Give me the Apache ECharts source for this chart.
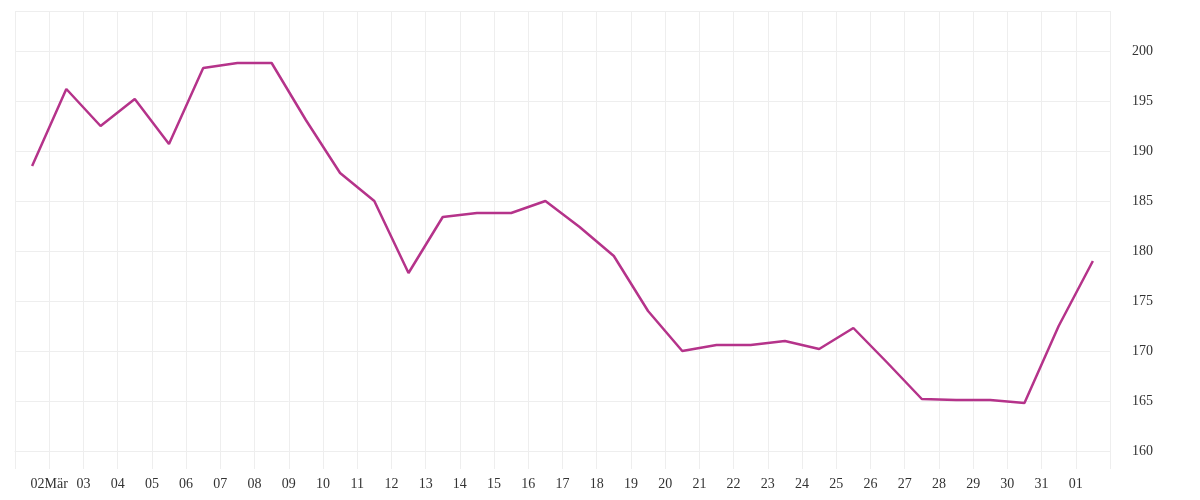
<!DOCTYPE html>
<html><head><meta charset="utf-8">
<script src="https://cdn.jsdelivr.net/npm/echarts@6/dist/echarts.min.js"></script>
<style>body{margin:0}#c{width:1200px;height:500px}</style></head>
<body><div id="c"></div>
<script>
const dayLabels = {2:'02Mär',3:'03',4:'04',5:'05',6:'06',7:'07',8:'08',9:'09',10:'10',11:'11',12:'12',13:'13',14:'14',15:'15',16:'16',17:'17',18:'18',19:'19',20:'20',21:'21',22:'22',23:'23',24:'24',25:'25',26:'26',27:'27',28:'28',29:'29',30:'30',31:'31',32:'01'};
const xDays = [1.5,2.5,3.5,4.5,5.5,6.5,7.5,8.5,9.5,10.5,11.5,12.5,13.5,14.5,15.5,16.5,17.5,18.5,19.5,20.5,21.5,22.5,23.5,24.5,25.5,26.5,27.5,28.5,29.5,30.5,31.5,32.5];
const values = [188.5,196.2,192.5,195.2,190.7,198.3,198.8,198.8,193.1,187.8,185.0,177.8,183.4,183.8,183.8,185.0,182.4,179.5,174.0,170.0,170.6,170.6,171.0,170.2,172.3,168.8,165.2,165.1,165.1,164.8,172.5,179.0];
const data = xDays.map((d,i)=>[d,values[i]]);
const chart = echarts.init(document.getElementById('c'));
const font = 'Liberation Serif';
chart.setOption({
  animation:false,
  grid:{left:15,right:90,top:11,bottom:49},
  xAxis:{type:'value',min:1,max:33,interval:1,
    axisLine:{show:true,lineStyle:{color:'#eeeeee'}},
    axisTick:{show:true,length:18,lineStyle:{color:'#eeeeee'}},
    splitLine:{show:true,lineStyle:{color:'#eeeeee'}},
    axisLabel:{margin:26,color:'#333',fontFamily:font,fontSize:14,
      formatter:v=>dayLabels[v]||''}},
  yAxis:{type:'value',position:'right',min:160,max:204,interval:5,
    axisLine:{show:false},axisTick:{show:false},
    splitLine:{lineStyle:{color:'#eeeeee'}},
    axisLabel:{margin:22,color:'#333',fontFamily:font,fontSize:14,
      formatter:v=>v%5===0?v:''}},
  series:[{type:'line',data:data,symbol:'none',
    lineStyle:{color:'#b5338a',width:2.5}}]
});
</script></body></html>
